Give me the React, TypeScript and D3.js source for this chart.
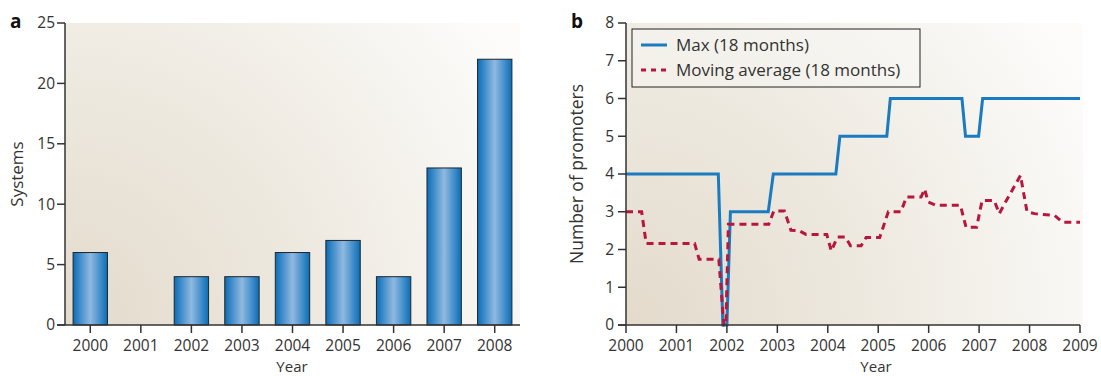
import React from 'react';
import * as d3 from 'd3';

// panel a: systems per year
const barYears = ['2000', '2001', '2002', '2003', '2004', '2005', '2006', '2007', '2008'];
const systems = [6, 0, 4, 4, 6, 7, 4, 13, 22];
const systemTicks = [0, 5, 10, 15, 20, 25];

// panel b: promoters over time
const maxX = [2000, 2001.83, 2001.92, 2002.0, 2002.07, 2002.82, 2002.92, 2004.16, 2004.24, 2005.17, 2005.24, 2006.66, 2006.73, 2006.99, 2007.07, 2009];
const maxY = [4, 4, 0, 0, 3, 3, 4, 4, 5, 5, 6, 6, 5, 5, 6, 6];
const avgX = [2000, 2000.31, 2000.4, 2001.36, 2001.45, 2001.84, 2001.94, 2001.98, 2002.03, 2002.83, 2002.93, 2003.14, 2003.27, 2003.43, 2003.57, 2003.98, 2004.07, 2004.19, 2004.35, 2004.45, 2004.66, 2004.76, 2005.03, 2005.2, 2005.45, 2005.56, 2005.85, 2005.92, 2005.99, 2006.15, 2006.63, 2006.74, 2006.95, 2007.06, 2007.3, 2007.4, 2007.5, 2007.82, 2007.95, 2008.1, 2008.5, 2008.66, 2009];
const avgY = [3, 3, 2.16, 2.16, 1.74, 1.74, 0, 0, 2.67, 2.67, 3.02, 3.02, 2.51, 2.5, 2.4, 2.4, 1.96, 2.33, 2.33, 2.1, 2.1, 2.32, 2.32, 3.0, 3.0, 3.39, 3.39, 3.6, 3.26, 3.17, 3.17, 2.59, 2.59, 3.3, 3.3, 2.95, 3.2, 3.96, 3.0, 2.95, 2.9, 2.72, 2.72];
const yearTicks = [2000, 2001, 2002, 2003, 2004, 2005, 2006, 2007, 2008, 2009];
const promoterTicks = [0, 1, 2, 3, 4, 5, 6, 7, 8];
const legendLabels = ['Max (18 months)', 'Moving average (18 months)'];

const W = 1101;
const H = 376;
const top = 23;
const bottom = 325;
const font = "'Open Sans', 'DejaVu Sans', sans-serif";
const ink = '#333';

export default function App() {
  // scales
  const xa = d3.scaleBand().domain(barYears).range([65, 520]).paddingInner(0.32).paddingOuter(0.16);
  const ya = d3.scaleLinear().domain([0, 25]).range([bottom, top]);
  const xb = d3.scaleLinear().domain([2000, 2009]).range([626, 1080]);
  const yb = d3.scaleLinear().domain([0, 8]).range([bottom, top]);

  const maxLine = d3.line<number>().x((d, i) => xb(maxX[i])).y((d) => yb(d))(maxY) || '';
  const avgLine = d3.line<number>().x((d, i) => xb(avgX[i])).y((d) => yb(d))(avgY) || '';

  return (
    <svg width={W} height={H} style={{ position: 'absolute', left: 0, top: 0, display: 'block' }} fontFamily={font}>
      <defs>
        <radialGradient id="bgA" gradientUnits="userSpaceOnUse" cx={65} cy={bottom} r={520}>
          <stop offset="0" stopColor="#e3dacb" />
          <stop offset="0.5" stopColor="#eeeae1" />
          <stop offset="1" stopColor="#fdfcfb" />
        </radialGradient>
        <radialGradient id="bgB" gradientUnits="userSpaceOnUse" cx={626} cy={bottom} r={520}>
          <stop offset="0" stopColor="#e3dacb" />
          <stop offset="0.5" stopColor="#eeeae1" />
          <stop offset="1" stopColor="#fdfcfb" />
        </radialGradient>
        <linearGradient id="bar" x1="0" x2="1" y1="0" y2="0">
          <stop offset="0" stopColor="#0c6cb2" />
          <stop offset="0.2" stopColor="#3f8ccb" />
          <stop offset="0.5" stopColor="#90b9df" />
          <stop offset="0.8" stopColor="#3f8ccb" />
          <stop offset="1" stopColor="#0c6cb2" />
        </linearGradient>
      </defs>

      {/* panel a */}
      <rect x={65} y={top} width={455} height={bottom - top} fill="url(#bgA)" />
      {barYears.map((yr, i) =>
        systems[i] > 0 ? (
          <rect key={yr} x={xa(yr)} y={ya(systems[i])} width={xa.bandwidth()} height={bottom - ya(systems[i])}
            fill="url(#bar)" stroke="#1c2833" strokeWidth={1} />
        ) : null
      )}
      <line x1={65} x2={65} y1={top} y2={bottom} stroke={ink} strokeWidth={1.5} />
      <line x1={57} x2={520} y1={bottom} y2={bottom} stroke={ink} strokeWidth={1.5} />
      {systemTicks.map((t) => (
        <g key={t}>
          <line x1={57} x2={65} y1={ya(t)} y2={ya(t)} stroke={ink} strokeWidth={1.5} />
          <text x={55} y={ya(t)} dy="0.35em" textAnchor="end" fontSize={15.5} fill={ink}>{t}</text>
        </g>
      ))}
      {barYears.map((yr) => {
        const cx = (xa(yr) || 0) + xa.bandwidth() / 2;
        return (
          <g key={yr}>
            <line x1={cx} x2={cx} y1={bottom} y2={bottom + 8} stroke={ink} strokeWidth={1.5} />
            <text x={cx} y={351} textAnchor="middle" fontSize={15.5} fill={ink}>{yr}</text>
          </g>
        );
      })}
      <text x={292} y={371.5} textAnchor="middle" fontSize={15} fill={ink}>Year</text>
      <text transform={`translate(23,174) rotate(-90)`} textAnchor="middle" fontSize={17} fill={ink}>Systems</text>
      <text x={10} y={28} fontSize={19} fontWeight="bold" fill="#111">a</text>

      {/* panel b */}
      <rect x={626} y={top} width={457} height={bottom - top} fill="url(#bgB)" />
      <path d={maxLine} fill="none" stroke="#1b7bc0" strokeWidth={3} strokeLinejoin="miter" />
      <path d={avgLine} fill="none" stroke="#b7173d" strokeWidth={3} strokeDasharray="7 5" />
      <line x1={626} x2={626} y1={top} y2={bottom} stroke={ink} strokeWidth={1.5} />
      <line x1={618} x2={1080} y1={bottom} y2={bottom} stroke={ink} strokeWidth={1.5} />
      {promoterTicks.map((t) => (
        <g key={t}>
          <line x1={618} x2={626} y1={yb(t)} y2={yb(t)} stroke={ink} strokeWidth={1.5} />
          <text x={614} y={yb(t)} dy="0.35em" textAnchor="end" fontSize={15.5} fill={ink}>{t}</text>
        </g>
      ))}
      {yearTicks.map((t) => (
        <g key={t}>
          <line x1={xb(t)} x2={xb(t)} y1={bottom} y2={bottom + 8} stroke={ink} strokeWidth={1.5} />
          <text x={xb(t)} y={351} textAnchor="middle" fontSize={15.5} fill={ink}>{t}</text>
        </g>
      ))}
      <text x={876} y={371.5} textAnchor="middle" fontSize={15} fill={ink}>Year</text>
      <text transform={`translate(583,174) rotate(-90)`} textAnchor="middle" fontSize={17.5} fill={ink}>Number of promoters</text>
      <text x={571} y={28} fontSize={19} fontWeight="bold" fill="#111">b</text>

      {/* legend */}
      <rect x={632} y={29} width={288} height={58} fill="#fbfaf8" fillOpacity={0.4} stroke="#222" strokeWidth={1} />
      <line x1={641} x2={667} y1={45} y2={45} stroke="#1b7bc0" strokeWidth={3} />
      <line x1={641} x2={667} y1={70} y2={70} stroke="#b7173d" strokeWidth={3} strokeDasharray="5 5" />
      {legendLabels.map((l, i) => (
        <text key={l} x={676} y={45 + i * 25} dy="0.35em" fontSize={17} fill={ink}>{l}</text>
      ))}
    </svg>
  );
}
